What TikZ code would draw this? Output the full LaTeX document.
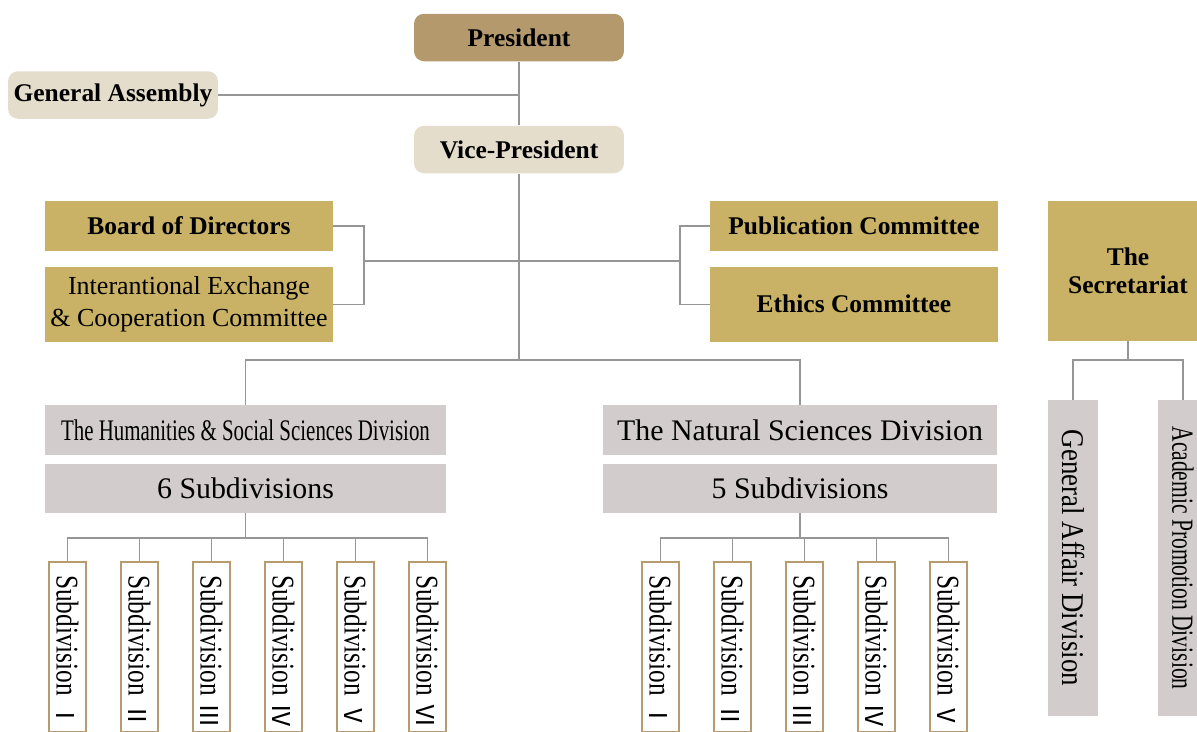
\documentclass[tikz,border=0pt]{standalone}
\usepackage{fontspec}
\setmainfont{Liberation Serif}
\newfontfamily\narrowA[FakeStretch=0.85]{Liberation Serif}
\newfontfamily\narrowB[FakeStretch=0.7]{Liberation Serif}
\newfontfamily\narrowC[FakeStretch=0.8]{Liberation Serif}
\newfontfamily\cjk{Noto Sans CJK JP}
\usetikzlibrary{positioning,calc}
\definecolor{KBrown}{RGB}{179,153,108}
\definecolor{KBeige}{RGB}{229,221,204}
\definecolor{KGold}{RGB}{201,178,101}
\definecolor{KGrey}{RGB}{210,204,204}
\definecolor{KEdge}{RGB}{181,155,110}
\definecolor{KLine}{RGB}{150,150,150}

\begin{document}
\begin{tikzpicture}[
                x=0.02cm, y=-0.02cm,
                % Style cho hop bo tron o tren cung
                topbox/.style={
                    rounded corners=0.2cm,
                    minimum width=4.2cm,
                    minimum height=0.95cm,
                    inner sep=0pt,
                    font=\fontsize{14.5}{16}\selectfont\bfseries
                },
                % Style cho hop mau vang
                goldbox/.style={
                    fill=KGold,
                    minimum width=5.76cm,
                    inner sep=0pt,
                    align=center
                },
                % Style cho hop mau xam
                greybox/.style={
                    fill=KGrey,
                    inner sep=0pt
                },
                % Style cho phan ban dung
                subbox/.style={
                    draw=KEdge,
                    fill=white,
                    line width=0.8pt,
                    rotate=-90,
                    text width=2.88cm,
                    align=left,
                    inner xsep=0.26cm,
                    inner ysep=0pt,
                    minimum width=3.4cm,
                    minimum height=0.74cm,
                    font=\narrowC\fontsize{18}{18}\selectfont
                },
                % Style duong noi
                link/.style={
                    draw=KLine,
                    line width=0.6pt
                }
            ]
                \useasboundingbox (0,0) rectangle (1197,731);

                % Tang tren: President, General Assembly, Vice-President
                \node[topbox, fill=KBrown] (pres) at (519,37.5) {President};
                \node[topbox, fill=KBeige] (ga) at (113,95) {General Assembly};
                \node[topbox, fill=KBeige] (vp) at (519,149.5) {Vice-President};

                % Cac uy ban ben trai
                \node[goldbox, minimum height=1cm, font=\fontsize{14.5}{16}\selectfont\bfseries] (bod) at (189,226) {Board of Directors};
                \node[goldbox, minimum height=1.5cm, below=0.3cm of bod, font=\fontsize{14.8}{18.2}\selectfont] (iecc) {Interantional Exchange\\\& Cooperation Committee};
                % Cac uy ban ben phai
                \node[goldbox, minimum height=1cm, font=\fontsize{14.5}{16}\selectfont\bfseries] (pub) at (854,226) {Publication Committee};
                \node[goldbox, minimum height=1.5cm, below=0.3cm of pub, font=\fontsize{14.5}{16}\selectfont\bfseries] (eth) {Ethics Committee};
                % Secretariat
                \node[goldbox, minimum width=3.2cm, minimum height=2.8cm, font=\fontsize{14.5}{16}\selectfont\bfseries] (sec) at (1128,271) {The\\Secretariat};

                % Hai ban lon
                \node[greybox, minimum width=8.02cm, minimum height=1cm, font=\narrowB\fontsize{17}{17}\selectfont] (hum) at (245.5,430) {The Humanities \& Social Sciences Division};
                \node[greybox, minimum width=8.02cm, minimum height=0.98cm, below=0.16cm of hum, font=\fontsize{17}{17}\selectfont] (hcount) {6 Subdivisions};
                \node[greybox, minimum width=7.88cm, minimum height=1cm, font=\fontsize{17}{17}\selectfont] (nat) at (800,430) {The Natural Sciences Division};
                \node[greybox, minimum width=7.88cm, minimum height=0.98cm, below=0.16cm of nat, font=\fontsize{17}{17}\selectfont] (ncount) {5 Subdivisions};

                % Hai phong cua Secretariat
                \node[greybox, rotate=-90, minimum width=6.32cm, minimum height=1cm, font=\narrowA\fontsize{18}{18}\selectfont] (gad) at (1073,558) {General Affair Division\hspace{0.4em}};
                \node[greybox, rotate=-90, minimum width=6.32cm, minimum height=1cm, font=\narrowB\fontsize{17.5}{17.5}\selectfont] (apd) at (1183,558) {Academic Promotion Division\hspace{0.4em}};

                % Cac phan ban
                \foreach \n [count=\k] in {Ⅰ,Ⅱ,Ⅲ,Ⅳ,Ⅴ,Ⅵ}
                    \node[subbox] (hs\k) at ({67.5+72*(\k-1)},647) {\mbox{Subdivision\hspace{0.25em}{\cjk\fontsize{14}{14}\selectfont\n}}};
                \foreach \n [count=\k] in {Ⅰ,Ⅱ,Ⅲ,Ⅳ,Ⅴ}
                    \node[subbox] (ns\k) at ({660.5+72*(\k-1)},647) {\mbox{Subdivision\hspace{0.25em}{\cjk\fontsize{14}{14}\selectfont\n}}};

                % Diem re nhanh
                \coordinate (lbr) at (364,261);
                \coordinate (rbr) at (680,261);
                \coordinate (hub) at (519,360);
                \coordinate (sbus) at (1128,360);
                \coordinate (hbus) at (245.5,538);
                \coordinate (nbus) at (800,538);

                % Duong noi
                \draw[link] (pres) -- (vp);
                \draw[link] (ga) -- (ga -| pres);
                \draw[link] (vp) -- (hub);
                \draw[link] (bod.east) -| (lbr) |- (iecc.east);
                \draw[link] (lbr) -- (rbr);
                \draw[link] (pub.west) -| (rbr) |- (eth.west);
                \draw[link] (hum.north) |- (hub) -| (nat.north);
                \draw[link] (hcount) -- (hbus);
                \draw[link] (ncount) -- (nbus);
                \foreach \k in {1,...,6}
                    \draw[link] (hbus) -| (hs\k.west);
                \foreach \k in {1,...,5}
                    \draw[link] (nbus) -| (ns\k.west);
                \draw[link] (sec) -- (sbus);
                \draw[link] (sbus) -| (gad.west);
                \draw[link] (sbus) -| (apd.west);
            \end{tikzpicture}
\end{document}
